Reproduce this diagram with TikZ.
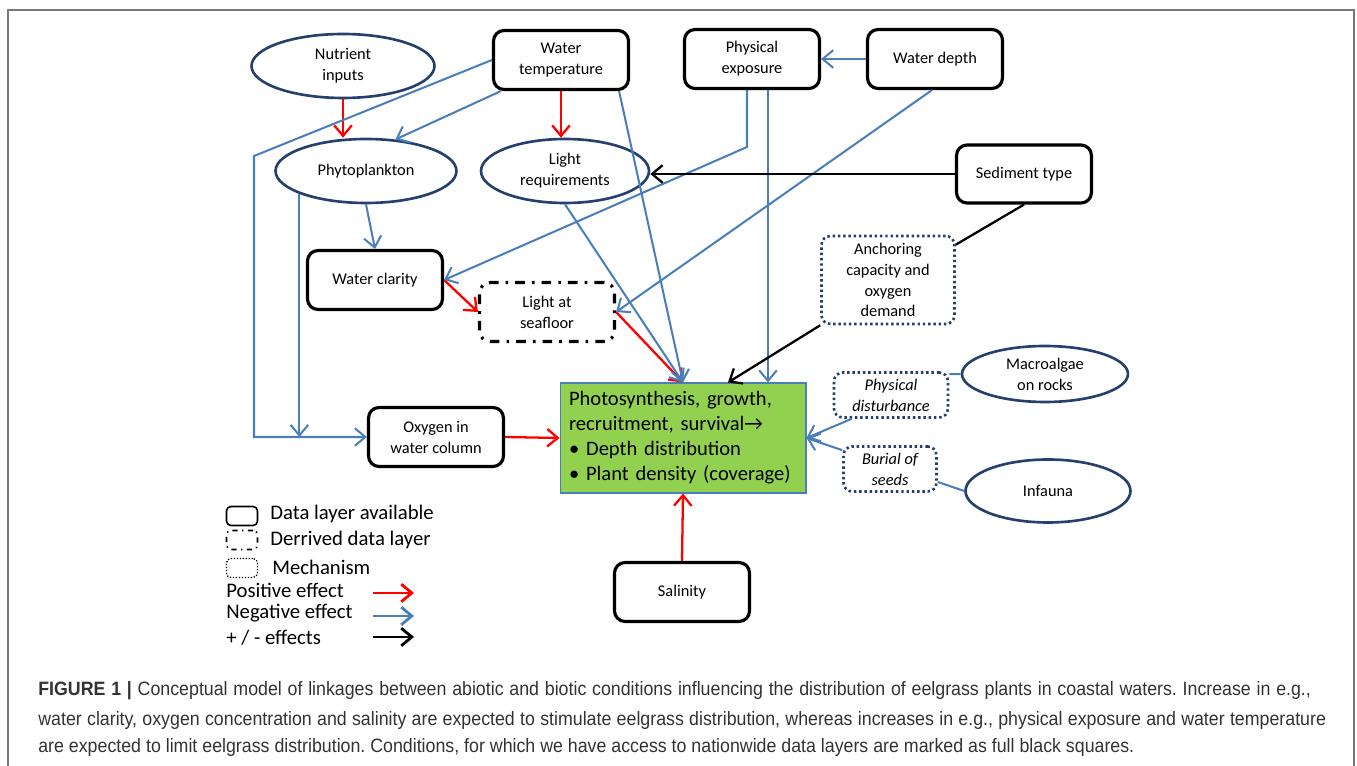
\documentclass[tikz,border=0pt]{standalone}
\usepackage{fontspec}
\setmainfont{Carlito}
\newfontfamily\capfont[FakeStretch=0.92]{Liberation Sans}
\usepackage{tikz}
\usetikzlibrary{arrows.meta,shapes.geometric,positioning}
\definecolor{negblue}{RGB}{74,126,187}
\definecolor{navy}{RGB}{38,64,110}
\definecolor{posred}{RGB}{255,0,0}
\definecolor{eelgreen}{RGB}{146,208,80}
\definecolor{capgray}{RGB}{50,50,50}
\definecolor{framegray}{RGB}{120,120,120}
\frenchspacing

\tikzset{
  >={Straight Barb[length=6pt,width=10pt]},
  every node/.style={font=\fontsize{9.3}{11.9}\selectfont},
  datalayer/.style={draw, line width=1.8pt, rounded corners=6pt, minimum width=2.7cm, minimum height=1.18cm, align=center},
  derived/.style={datalayer, dash pattern=on 5.5pt off 4pt on 1.5pt off 4pt},
  mechanism/.style={draw=navy, line width=1.5pt, dash pattern=on 1.4pt off 1.6pt, rounded corners=5pt, inner sep=1pt, align=center},
  driver/.style={ellipse, draw=navy, line width=1.5pt, inner sep=0pt, align=center},
  negfx/.style={->, negblue, line width=1.15pt},
  posfx/.style={->, posred, line width=1.3pt},
  mixfx/.style={->, black, line width=1.3pt},
  keybox/.style={draw, line width=0.9pt, rounded corners=2.5pt, minimum width=0.62cm, minimum height=0.38cm},
  keytext/.style={anchor=west, inner sep=0pt, font=\fontsize{11.8}{13}\selectfont},
  capline/.style={anchor=west, inner sep=0pt, text=capgray, font=\capfont\fontsize{11}{12}\selectfont}
}

\begin{document}
\begin{tikzpicture}[x=0.02cm, y=-0.02cm]
\useasboundingbox (0,0) rectangle (1357,766);
\draw[framegray, line width=0.8pt] (8,766) -- (8,10) -- (1354,10) -- (1354,766);

% conditions
\node[driver, minimum width=3.66cm, minimum height=1.28cm] (nutr) at (343,66) {Nutrient\\inputs};
\node[datalayer] (wtemp) at (561,60) {Water\\temperature};
\node[datalayer] (phys) at (752,59) {Physical\\exposure};
\node[datalayer] (wdepth) at (935,59) {Water depth};
\node[driver, minimum width=3.62cm, minimum height=1.28cm] (phyto) at (366,171) {Phytoplankton};
\node[driver, minimum width=3.36cm, minimum height=1.28cm] (lightreq) at (565,171) {Light\\requirements};
\node[datalayer, minimum height=1.16cm] (sed) at (1024,174) {Sediment type};
\node[datalayer] (clarity) at (375,280) {Water clarity};
\node[derived] (seafloor) at (547,312) {Light at\\seafloor};
\node[mechanism, minimum width=2.66cm, minimum height=1.76cm] (anchoring) at (888,280) {Anchoring\\capacity and\\oxygen\\demand};
\node[datalayer] (oxygen) at (436,437) {Oxygen in\\water column};
\node[datalayer] (salinity) at (682,592) {Salinity};
\node[mechanism, minimum width=2.28cm, minimum height=0.9cm, font=\fontsize{9.3}{11.9}\selectfont\itshape] (disturb) at (891,395) {Physical\\disturbance};
\node[mechanism, minimum width=1.86cm, minimum height=0.9cm, font=\fontsize{9.3}{11.9}\selectfont\itshape] (burial) at (890,469) {Burial of\\seeds};
\node[driver, minimum width=3.32cm, minimum height=1.12cm] (macro) at (1045,374) {Macroalgae\\on rocks};
\node[driver, minimum width=3.3cm, minimum height=1.26cm] (infauna) at (1048,491) {Infauna};

% eelgrass response
\node[draw=negblue, line width=0.6pt, fill=eelgreen, minimum width=4.92cm, minimum height=2.2cm, text width=4.56cm, inner xsep=0.18cm, align=left, font=\fontsize{11.7}{14.2}\selectfont] (eelgrass) at (683,438)
  {Photosynthesis, growth,\\recruitment, survival→\\• Depth distribution\\• Plant density (coverage)};

\coordinate (bendwt) at (254,156);
\coordinate (bendpe) at (747,147);

% positive effects
\draw[posfx] (nutr.south) -- (nutr.south |- phyto.north);
\draw[posfx] (wtemp.south) -- (wtemp.south |- lightreq.north);
\draw[posfx] (clarity.east) -- (seafloor.west);
\draw[posfx] (seafloor.east) -- (eelgrass.north);
\draw[posfx] (oxygen.east) -- (eelgrass.west);
\draw[posfx] (salinity.north) -- (eelgrass.south);

% negative effects
\draw[negfx] (wtemp.west) -- (bendwt) -- (bendwt |- oxygen.west) -- (oxygen.west);
\draw[negfx] ([xshift=0.18cm]wtemp.south west) -- (phyto.47);
\draw[negfx] (phyto.199) -- (phyto.199 |- oxygen.west);
\draw[negfx] (phyto.south) -- (clarity.north);
\draw[negfx] ([xshift=-0.22cm]wtemp.south east) -- (eelgrass.north);
\draw[negfx] (lightreq.south) -- (eelgrass.north);
\draw[negfx] (phys.south -| bendpe) -- (bendpe) -- (clarity.east);
\draw[negfx] ([xshift=0.32cm]phys.south) -- ([xshift=0.32cm]phys.south |- eelgrass.north);
\draw[negfx] (wdepth.west) -- (phys.east);
\draw[negfx] ([xshift=-0.06cm]wdepth.south) -- (seafloor.east);
\draw[negfx] ([xshift=0.38cm]disturb.south west) -- (eelgrass.east);
\draw[negfx] ([yshift=-0.1cm]burial.north west) -- (eelgrass.east);
\draw[negblue, line width=1.15pt] (macro.west) -- ([yshift=-0.06cm]disturb.north east);
\draw[negblue, line width=1.15pt] (infauna.west) -- ([yshift=-0.26cm]burial.east);

% +/- effects
\draw[mixfx] (sed.west) -- (sed.west -| lightreq.east);
\draw[black, line width=1.3pt] (sed.south) -- ([yshift=-0.2cm]anchoring.north east);
\draw[mixfx] (anchoring.south west) -- ([xshift=0.9cm]eelgrass.north);

% legend
\node[keybox] (keydata) at (242,516) {};
\node[keybox, dash pattern=on 3pt off 2.5pt on 0.8pt off 2.5pt] (keyderived) at (242,540) {};
\node[keybox, dash pattern=on 0.8pt off 0.9pt, line width=0.7pt] (keymech) at (242,568) {};
\node[keytext] (txtdata) at (270,514) {Data layer available};
\node[keytext] (txtderived) at (270,540) {Derrived data layer};
\node[keytext] (txtmech) at (272,567) {Mechanism};
\node[keytext] (txtpos) at (226,590) {Positive effect};
\node[keytext] (txtneg) at (226,613) {Negative effect};
\node[keytext] (txtmix) at (226,638) {+ / - effects};
\coordinate (posA) at (373,593); \coordinate (posB) at (414,593);
\coordinate (negA) at (373,616); \coordinate (negB) at (414,616);
\coordinate (mixA) at (373,637); \coordinate (mixB) at (414,637);
\draw[posfx, line width=1.6pt] (posA) -- (posB);
\draw[negfx, line width=1.6pt] (negA) -- (negB);
\draw[mixfx, line width=1.6pt] (mixA) -- (mixB);

% caption
\node[capline] (cap1) at (38,691) {\makebox[25.46cm][s]{\textbf{FIGURE 1 |} Conceptual model of linkages between abiotic and biotic conditions influencing the distribution of eelgrass plants in coastal waters. Increase in e.g.,}};
\node[capline] (cap2) at (38,721) {\makebox[25.76cm][s]{water clarity, oxygen concentration and salinity are expected to stimulate eelgrass distribution, whereas increases in e.g., physical exposure and water temperature}};
\node[capline] (cap3) at (38,748) {are expected to limit eelgrass distribution. Conditions, for which we have access to nationwide data layers are marked as full black squares.};
\end{tikzpicture}
\end{document}
